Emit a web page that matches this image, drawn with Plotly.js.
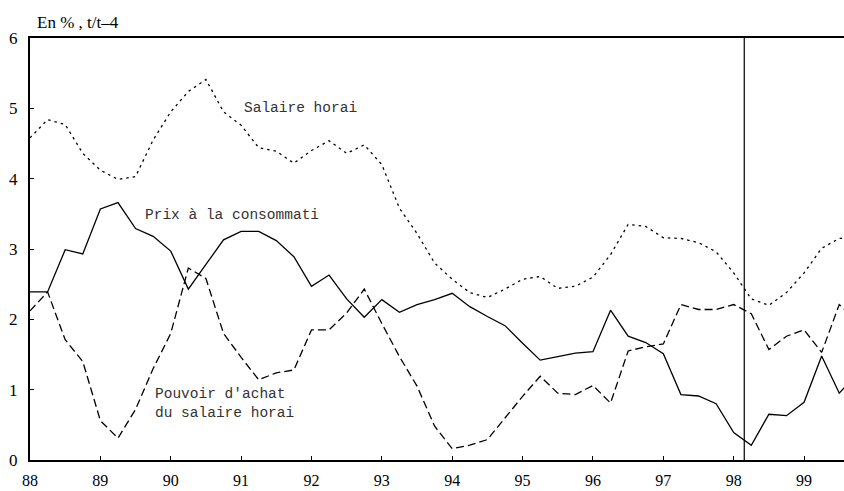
<!DOCTYPE html>
<html>
<head>
<meta charset="utf-8">
<script src="https://cdn.plot.ly/plotly-3.0.1.min.js"></script>
<style>
  html, body { margin: 0; padding: 0; background: #fff; }
  #chart { width: 844px; height: 491px; }
</style>
</head>
<body>
<div id="chart"></div>
<script>
// Quarterly dates: 1988 Q1 ... 1999 Q4 (as fractional years, Q1 = .00)
const startYear = 88;
const nQuarters = 48;
const quarters = [];
for (let i = 0; i < nQuarters; i++) quarters.push(startYear + i / 4);

// Salaire horaire (dotted), % t/t-4
const salaireHoraire = [
  4.58, 4.84, 4.77, 4.36, 4.12, 3.99, 4.03, 4.55, 4.95, 5.24, 5.41, 4.95,
  4.76, 4.44, 4.39, 4.22, 4.40, 4.54, 4.36, 4.48, 4.20, 3.58, 3.22, 2.80,
  2.57, 2.38, 2.31, 2.43, 2.57, 2.61, 2.44, 2.47, 2.60, 2.92, 3.35, 3.32,
  3.16, 3.15, 3.09, 2.96, 2.66, 2.29, 2.20, 2.38, 2.66, 3.01, 3.15, 3.15
];

// Prix à la consommation (solid)
const prixConso = [
  2.39, 2.39, 2.99, 2.93, 3.57, 3.66, 3.29, 3.18, 2.97, 2.43, 2.78, 3.13,
  3.25, 3.25, 3.12, 2.89, 2.47, 2.63, 2.29, 2.03, 2.28, 2.10, 2.21, 2.28,
  2.37, 2.18, 2.04, 1.91, 1.66, 1.42, 1.47, 1.52, 1.54, 2.13, 1.76, 1.67,
  1.51, 0.93, 0.91, 0.80, 0.39, 0.21, 0.65, 0.63, 0.82, 1.48, 0.95, 1.22
];

// Pouvoir d'achat du salaire horaire (dashed)
const pouvoirAchat = [
  2.12, 2.39, 1.71, 1.40, 0.56, 0.31, 0.72, 1.30, 1.80, 2.73, 2.58, 1.80,
  1.46, 1.14, 1.24, 1.28, 1.85, 1.85, 2.09, 2.43, 1.94, 1.47, 1.05, 0.48,
  0.16, 0.21, 0.29, 0.60, 0.905, 1.19, 0.95, 0.93, 1.06, 0.81, 1.55, 1.61,
  1.65, 2.21, 2.14, 2.14, 2.21, 2.08, 1.57, 1.76, 1.85, 1.53, 2.21, 1.98
];

const yearTicks = [88, 89, 90, 91, 92, 93, 94, 95, 96, 97, 98, 99];
const yearLabels = ["88", "89", "90", "91", "92", "93", "94", "95", "96", "97", "98", "99"];
const yTicks = [0, 1, 2, 3, 4, 5, 6];
const markerDate = 98.15; // vertical reference line

const labelFont = { family: "Liberation Mono, Courier New, monospace", size: 14.5, color: "#333" };
const serif = "Liberation Serif, Times New Roman, serif";

const traces = [
  {
    x: quarters, y: salaireHoraire, type: "scatter", mode: "lines",
    line: { color: "#000", width: 1.3, dash: "2.5px,4px" },
    name: "Salaire horaire", hoverinfo: "skip"
  },
  {
    x: quarters, y: prixConso, type: "scatter", mode: "lines",
    line: { color: "#000", width: 1.3 },
    name: "Prix à la consommation", hoverinfo: "skip"
  },
  {
    x: quarters, y: pouvoirAchat, type: "scatter", mode: "lines",
    line: { color: "#000", width: 1.3, dash: "8px,4px" },
    name: "Pouvoir d'achat du salaire horaire", hoverinfo: "skip"
  }
];

const layout = {
  width: 844, height: 491,
  margin: { l: 30, r: 0, t: 38, b: 31, pad: 0 },
  paper_bgcolor: "#fff", plot_bgcolor: "#fff",
  showlegend: false,
  title: {
    text: "En % , t/t\u20134",
    font: { family: serif, size: 17, color: "#000" },
    x: 37 / 844, xanchor: "left", xref: "container",
    y: 1 - 22.5 / 491, yanchor: "middle", yref: "container"
  },
  xaxis: {
    range: [88, 88 + 814 / 70.37],
    tickvals: yearTicks, ticktext: yearLabels,
    ticks: "inside", ticklen: 4, tickwidth: 1, tickcolor: "#000",
    showline: true, linecolor: "#000", linewidth: 2, mirror: true,
    showgrid: false, zeroline: false,
    tickfont: { family: serif, size: 16, color: "#000" },
    ticklabelstandoff: 5,
    fixedrange: true
  },
  yaxis: {
    range: [0, 6],
    tickvals: yTicks,
    ticks: "inside", ticklen: 4, tickwidth: 1, tickcolor: "#000",
    showline: true, linecolor: "#000", linewidth: 2,
    showgrid: false, zeroline: false,
    tickfont: { family: serif, size: 17, color: "#000" },
    ticklabelstandoff: 7,
    fixedrange: true
  },
  shapes: [
    {
      type: "line", xref: "x", yref: "y",
      x0: markerDate, x1: markerDate, y0: 0, y1: 6,
      line: { color: "#000", width: 1.2 }
    }
  ],
  annotations: [
    {
      text: "Salaire horai", x: 91.045, y: 5.0, xref: "x", yref: "y",
      xanchor: "left", yanchor: "middle", showarrow: false, font: labelFont, xshift: -2
    },
    {
      text: "Prix à la consommati", x: 89.634, y: 3.49, xref: "x", yref: "y",
      xanchor: "left", yanchor: "middle", showarrow: false, font: labelFont, xshift: -2
    },
    {
      text: "Pouvoir d'achat<br>du salaire horai", x: 89.776, y: 0.80, xref: "x", yref: "y",
      xanchor: "left", yanchor: "middle", align: "left", showarrow: false, font: labelFont, xshift: -2
    }
  ]
};

Plotly.newPlot("chart", traces, layout, { staticPlot: true, displayModeBar: false });
</script>
</body>
</html>
